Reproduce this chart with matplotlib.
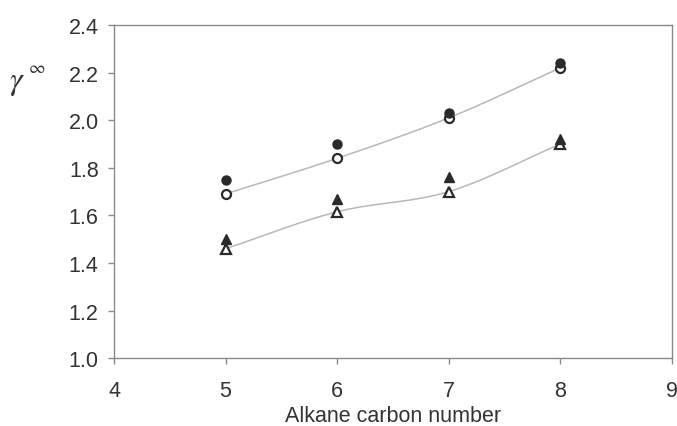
import numpy as np
import matplotlib
matplotlib.use("Agg")
import matplotlib.pyplot as plt

carbon = [5, 6, 7, 8]
circ_filled = [1.75, 1.90, 2.03, 2.24]
circ_open = [1.69, 1.84, 2.01, 2.22]
tri_filled = [1.50, 1.67, 1.76, 1.92]
tri_open = [1.46, 1.615, 1.70, 1.90]

xticks = [4, 5, 6, 7, 8, 9]
yticks = [1.0, 1.2, 1.4, 1.6, 1.8, 2.0, 2.2, 2.4]


def smooth(x, y, n=40):
    # Catmull-Rom style smoothed line (like a spreadsheet "smoothed line")
    x = np.asarray(x, float)
    y = np.asarray(y, float)
    px = np.concatenate([[2 * x[0] - x[1]], x, [2 * x[-1] - x[-2]]])
    py = np.concatenate([[2 * y[0] - y[1]], y, [2 * y[-1] - y[-2]]])
    xs, ys = [], []
    t = np.linspace(0, 1, n)
    for i in range(1, len(px) - 2):
        p0, p1, p2, p3 = [np.array([px[j], py[j]]) for j in range(i - 1, i + 3)]
        m1 = (p2 - p0) / 2
        m2 = (p3 - p1) / 2
        h00 = 2 * t**3 - 3 * t**2 + 1
        h10 = t**3 - 2 * t**2 + t
        h01 = -2 * t**3 + 3 * t**2
        h11 = t**3 - t**2
        pts = (np.outer(h00, p1) + np.outer(h10, m1) + np.outer(h01, p2) + np.outer(h11, m2))
        xs.extend(pts[:, 0]); ys.extend(pts[:, 1])
    return np.array(xs), np.array(ys)


plt.rcParams['font.family'] = ['Liberation Sans', 'DejaVu Sans']
plt.rcParams['mathtext.fontset'] = 'stix'
fig = plt.figure(figsize=(6.77, 4.27), dpi=100)
ax = fig.add_axes([0.1684, 0.159, 0.8242, 0.780])

gray_line = '#b8b8b8'
for ys in (circ_open, tri_open):
    sx, sy = smooth(carbon, ys)
    ax.plot(sx, sy, color=gray_line, lw=1.1, zorder=1)

ax.plot(carbon, circ_filled, 'o', ms=6.5, mfc='#2a2a2a', mec='#2a2a2a', ls='none', zorder=3)
ax.plot(carbon, circ_open, 'o', ms=6.5, mfc='white', mec='#2a2a2a', mew=1.6, ls='none', zorder=2)
ax.plot(carbon, tri_filled, '^', ms=7, mfc='#2a2a2a', mec='#2a2a2a', ls='none', zorder=3)
ax.plot(carbon, tri_open, '^', ms=7, mfc='white', mec='#2a2a2a', mew=1.6, ls='none', zorder=2)

ax.set_xlim(4, 9)
ax.set_ylim(1.0, 2.4)
ax.set_xticks(xticks)
ax.set_yticks(yticks)
ax.set_xticklabels([str(v) for v in xticks])
ax.set_yticklabels([f"{v:.1f}" for v in yticks])

axis_col = '#8a8a8a'
for s in ax.spines.values():
    s.set_color(axis_col)
    s.set_linewidth(1.0)
ax.tick_params(axis='both', direction='out', length=4, width=1.0, color=axis_col,
               labelsize=15.5, labelcolor='#333333')
ax.tick_params(axis='x', pad=12)
ax.tick_params(axis='y', pad=7)

ax.set_xlabel('Alkane carbon number', fontsize=15.5, color='#333333', labelpad=3)
fig.text(0.013, 0.805, r'$\gamma$', fontsize=23, color='#333333', ha='left', va='center')
fig.text(0.041, 0.840, r'$\infty$', fontsize=13, color='#333333', ha='left', va='center')

fig.savefig('out.png', dpi=100, facecolor='white')
